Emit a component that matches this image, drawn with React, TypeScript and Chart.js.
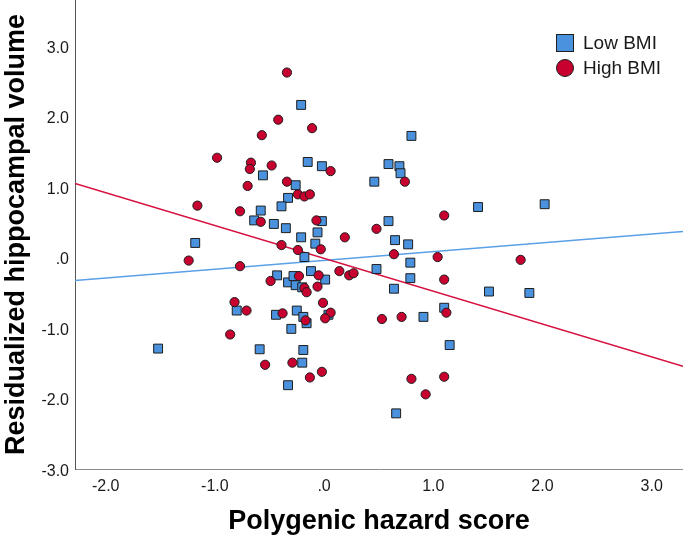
import React, { useEffect, useRef } from 'react';
import { Chart, registerables } from 'chart.js';

Chart.register(...registerables);

// Low BMI (blue squares)
const lowBmiX = [
  -0.21, -0.15, -0.02, -0.56, -0.26, -0.33, -0.39, -0.58, -0.64, -0.46,
  -0.02, -0.35, -0.06, -0.21, -1.18, -0.08, -0.18, -0.43, -0.33, -0.28,
  -0.26, -0.12, 0.01, -0.2, -0.8, -0.44, -0.25, -0.19, -0.16, 0.04,
  -0.3, -1.52, -0.59, -0.19, -0.2, -0.33, 0.8, 0.59, 0.69, 0.7,
  0.46, 1.41, 0.59, 0.65, 0.77, 0.79, 0.48, 0.79, 0.64, 1.51,
  1.1, 0.91, 1.15, 0.66, 2.02, 1.88,
];
const lowBmiY = [
  2.2, 1.39, 1.33, 1.2, 1.06, 0.88, 0.76, 0.7, 0.56, 0.51,
  0.55, 0.45, 0.39, 0.32, 0.24, 0.23, 0.04, -0.22, -0.32, -0.23,
  -0.36, -0.16, -0.28, -0.39, -0.72, -0.78, -0.72, -0.81, -0.9, -0.78,
  -0.98, -1.26, -1.27, -1.28, -1.46, -1.78, 1.76, 1.36, 1.33, 1.23,
  1.11, 0.75, 0.55, 0.28, 0.22, -0.04, -0.13, -0.26, -0.41, -0.45,
  -0.68, -0.81, -1.21, -2.18, 0.79, -0.47,
];

// High BMI (red circles)
const highBmiX = [
  -0.34, -0.42, -0.11, -0.57, -0.98, -0.67, -0.68, -0.48, 0.06, -0.7,
  -0.34, -0.24, -0.18, -0.13, -1.16, -0.77, -0.58, -0.07, -0.39, -0.24,
  -0.03, -1.24, -0.77, 0.14, -0.49, -0.23, -0.05, -0.18, -0.16, -0.06,
  -0.82, -0.71, -0.38, -0.01, 0.06, 0.01, -0.17, -0.86, -0.54, -0.29,
  -0.13, -0.02, 0.74, 1.1, 0.48, 0.19, 0.64, 1.04, 1.8, 0.23,
  0.27, 1.1, 0.53, 0.71, 1.12, 0.8, 1.1, 0.93,
];
const highBmiY = [
  2.66, 1.99, 1.87, 1.77, 1.45, 1.38, 1.29, 1.34, 1.26, 1.05,
  1.11, 0.93, 0.9, 0.93, 0.77, 0.69, 0.54, 0.56, 0.21, 0.14,
  0.15, -0.01, -0.09, -0.16, -0.3, -0.23, -0.22, -0.4, -0.46, -0.38,
  -0.6, -0.72, -0.76, -0.61, -0.75, -0.83, -0.86, -1.06, -1.49, -1.46,
  -1.67, -1.59, 1.11, 0.63, 0.44, 0.32, 0.08, 0.04, 0.0, -0.22,
  -0.19, -0.28, -0.84, -0.81, -0.75, -1.69, -1.66, -1.91,
];

// Fit lines (endpoints at the axis limits)
const lowFitX = [-2.281, 3.287];
const lowFitY = [-0.294, 0.402];
const highFitX = [-2.281, 3.287];
const highFitY = [1.084, -1.511];

const xTicks = [-2, -1, 0, 1, 2, 3];
const yTicks = [-3, -2, -1, 0, 1, 2, 3];

const seriesLabels = ['Low BMI', 'High BMI'];

const BLUE = '#4a91de';
const RED = '#c8002f';
const BLUE_LINE = '#5aa0e6';
const RED_LINE = '#d6103f';
const EDGE = '#1e1e1e';
const FONT = "'Liberation Sans', Arial, sans-serif";

const fmt = (v: number) => (Math.abs(v) < 1e-9 ? '.0' : Number(v).toFixed(1));

const zip = (xs: number[], ys: number[]) => xs.map((x, i) => ({ x, y: ys[i] }));

const legendPlugin = {
  id: 'customLegend',
  afterDraw(chart: any) {
    const ctx = chart.ctx;
    ctx.save();
    ctx.fillStyle = BLUE;
    ctx.strokeStyle = EDGE;
    ctx.lineWidth = 1;
    ctx.fillRect(556.5, 34.5, 17, 17);
    ctx.strokeRect(556.5, 34.5, 17, 17);
    ctx.beginPath();
    ctx.arc(565, 68, 8.5, 0, Math.PI * 2);
    ctx.fillStyle = RED;
    ctx.fill();
    ctx.stroke();
    ctx.fillStyle = '#1a1a1a';
    ctx.font = `19px ${FONT}`;
    ctx.textBaseline = 'middle';
    ctx.textAlign = 'left';
    ctx.fillText(seriesLabels[0], 583, 44);
    ctx.fillText(seriesLabels[1], 583, 69);
    ctx.restore();
  },
};

export default function App() {
  const ref = useRef<HTMLCanvasElement | null>(null);
  useEffect(() => {
    if (!ref.current) return;
    const chart = new Chart(ref.current, {
      type: 'scatter',
      data: {
        datasets: [
          {
            label: seriesLabels[1],
            data: zip(highBmiX, highBmiY),
            pointStyle: 'circle',
            pointRadius: 4.6,
            backgroundColor: RED,
            borderColor: EDGE,
            borderWidth: 1,
            order: 0,
          },
          {
            label: seriesLabels[0],
            data: zip(lowBmiX, lowBmiY),
            pointStyle: 'rect',
            pointRadius: 6.3,
            backgroundColor: BLUE,
            borderColor: EDGE,
            borderWidth: 1,
            order: 1,
          },
          {
            label: 'High BMI fit',
            data: zip(highFitX, highFitY),
            showLine: true,
            pointRadius: 0,
            borderColor: RED_LINE,
            borderWidth: 1.6,
            order: 2,
          },
          {
            label: 'Low BMI fit',
            data: zip(lowFitX, lowFitY),
            showLine: true,
            pointRadius: 0,
            borderColor: BLUE_LINE,
            borderWidth: 1.6,
            order: 3,
          },
        ],
      },
      options: {
        responsive: false,
        animation: false,
        devicePixelRatio: 1,
        layout: { padding: 0, autoPadding: false },
        plugins: {
          legend: { display: false },
          tooltip: { enabled: false },
        },
        scales: {
          x: {
            type: 'linear',
            min: -2.281,
            max: 3.287,
            afterBuildTicks: (s: any) => {
              s.ticks = xTicks.map((v) => ({ value: v }));
            },
            afterFit: (s: any) => {
              s.height = 69;
              s.paddingLeft = 0;
              s.paddingRight = 0;
            },
            ticks: {
              callback: (v: any) => fmt(v),
              font: { family: FONT, size: 16 },
              color: '#1a1a1a',
              padding: 8,
              autoSkip: false,
              maxRotation: 0,
            },
            grid: { display: false, drawTicks: false },
            border: { display: true, color: '#8c8c8c', width: 1 },
            title: {
              display: true,
              text: 'Polygenic hazard score',
              font: { family: FONT, size: 27, weight: 'bold' },
              color: '#000',
              padding: 0,
            },
          },
          y: {
            type: 'linear',
            min: -2.97,
            max: 3.69,
            afterBuildTicks: (s: any) => {
              s.ticks = yTicks.map((v) => ({ value: v }));
            },
            afterFit: (s: any) => {
              s.width = 75;
              s.paddingTop = 0;
              s.paddingBottom = 0;
            },
            ticks: {
              callback: (v: any) => fmt(v),
              font: { family: FONT, size: 16 },
              color: '#1a1a1a',
              padding: 6,
              autoSkip: false,
            },
            grid: { display: false, drawTicks: false },
            border: { display: true, color: '#555555', width: 1 },
            title: {
              display: true,
              text: 'Residualized hippocampal volume',
              font: { family: FONT, size: 27, weight: 'bold' },
              color: '#000',
              padding: 0,
            },
          },
        },
      },
      plugins: [legendPlugin],
    } as any);
    return () => chart.destroy();
  }, []);

  return (
    <div style={{ position: 'fixed', left: 0, top: 0, width: 683, height: 538, background: '#fff' }}>
      <canvas ref={ref} width={683} height={538} style={{ display: 'block' }} />
    </div>
  );
}
